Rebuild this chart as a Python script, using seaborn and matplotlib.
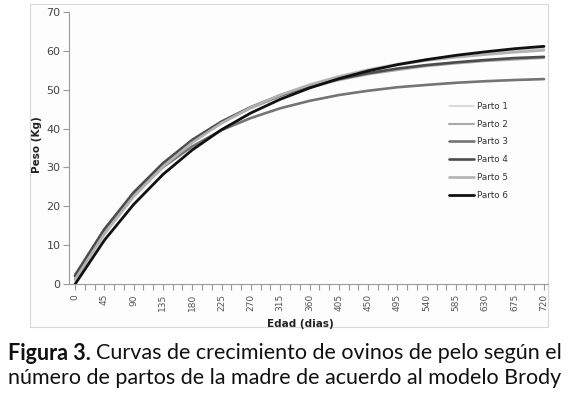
import numpy as np
import pandas as pd
import matplotlib
matplotlib.use("Agg")
import matplotlib.pyplot as plt
import seaborn as sns
from matplotlib.patches import Rectangle

# ---- data ----
edad = [0, 45, 90, 135, 180, 225, 270, 315, 360, 405, 450, 495, 540, 585, 630, 675, 720]
parto1 = [0.6, 12.6, 22.2, 30.0, 36.3, 41.3, 45.4, 48.7, 51.4, 53.5, 55.3, 56.7, 57.8, 58.7, 59.4, 60.0, 60.5]
parto2 = [1.5, 13.5, 23.1, 30.7, 36.7, 41.4, 45.2, 48.2, 50.5, 52.4, 53.9, 55.0, 56.0, 56.7, 57.3, 57.7, 58.1]
parto3 = [2.4, 14.1, 23.1, 30.1, 35.4, 39.6, 42.7, 45.2, 47.1, 48.6, 49.7, 50.6, 51.2, 51.75, 52.15, 52.46, 52.7]
parto4 = [2.1, 14.1, 23.6, 31.1, 37.1, 41.8, 45.5, 48.5, 50.9, 52.7, 54.2, 55.4, 56.3, 57.0, 57.6, 58.1, 58.4]
parto5 = [1.2, 13.0, 22.6, 30.2, 36.4, 41.4, 45.4, 48.6, 51.2, 53.3, 55.0, 56.4, 57.5, 58.3, 59.0, 59.6, 60.1]
parto6 = [0.0, 11.3, 20.5, 28.2, 34.5, 39.7, 44.0, 47.5, 50.4, 52.8, 54.8, 56.4, 57.7, 58.8, 59.7, 60.5, 61.1]
series_names = ["Parto 1", "Parto 2", "Parto 3", "Parto 4", "Parto 5", "Parto 6"]
series_vals = [parto1, parto2, parto3, parto4, parto5, parto6]
x_tick_labels = [str(v) for v in range(0, 721, 45)]
y_ticks = [0, 10, 20, 30, 40, 50, 60, 70]

colors = {"Parto 1": "#d4d4d4", "Parto 2": "#a9a9a9", "Parto 3": "#747474",
          "Parto 4": "#4c4c4c", "Parto 5": "#b2b2b2", "Parto 6": "#111111"}
widths = {"Parto 1": 1.2, "Parto 2": 1.5, "Parto 3": 1.9,
          "Parto 4": 1.9, "Parto 5": 1.9, "Parto 6": 2.0}

rows = []
for name, vals in zip(series_names, series_vals):
    for e, v in zip(edad, vals):
        rows.append({"Edad": e, "Peso": v, "Parto": name})
df = pd.DataFrame(rows)

sns.set_style("white")
plt.rcParams["font.family"] = ["DejaVu Sans"]

W, H = 570, 396
fig = plt.figure(figsize=(W / 100, H / 100), dpi=100)

# chart area frame
fig.patches.append(Rectangle((30 / W, 1 - 327 / H), (548 - 30) / W, (327 - 4) / H,
                             transform=fig.transFigure, facecolor="#fdfdfd",
                             edgecolor="#d8d8d8", lw=0.8, zorder=-5))

ax = fig.add_axes([69 / W, 1 - 284.3 / H, (548 - 69) / W, (284.3 - 11.7) / H])
ax.set_facecolor("none")
ax.set_zorder(2)

for name in series_names:
    sub = df[df["Parto"] == name]
    sns.lineplot(data=sub, x="Edad", y="Peso", ax=ax, color=colors[name],
                 lw=widths[name], label=name, legend=False)

px_per_day = (544 - 75) / 720
ax.set_xlim(-(75 - 69) / px_per_day, 720 + (548 - 544) / px_per_day)
ax.set_ylim(0, 70)

for s in ["top", "right"]:
    ax.spines[s].set_visible(False)
for s in ["left", "bottom"]:
    ax.spines[s].set_color("#9a9a9a")
    ax.spines[s].set_linewidth(0.8)

ax.set_yticks(y_ticks)
ax.set_yticklabels([str(v) for v in y_ticks], fontsize=8, color="#444444")
ax.tick_params(axis="y", direction="out", length=4, width=0.8, color="#9a9a9a", pad=2, left=True)

ax.set_xticks(list(range(0, 721, 45)))
ax.set_xticklabels(x_tick_labels, rotation=90, fontsize=6.5, color="#555555")
ax.set_xticks(list(range(0, 721, 15)), minor=True)
ax.tick_params(axis="x", which="both", direction="out", length=4, width=0.8,
               color="#9a9a9a", pad=3, bottom=True)

ax.set_xlabel("")
ax.set_ylabel("")
fig.text(300 / W, 1 - 324 / H, "Edad (dias)", ha="center", va="center",
         fontsize=7.5, fontweight="bold", color="#222222")
fig.text(37 / W, 1 - 145 / H, "Peso (Kg)", ha="center", va="center", rotation=90,
         fontsize=7.5, fontweight="bold", color="#222222")

handles, labels = ax.get_legend_handles_labels()
leg = ax.legend(handles, labels, loc="upper left", bbox_to_anchor=(449 / W, 1 - 102 / H),
                bbox_transform=fig.transFigure, frameon=False, fontsize=6.3,
                handlelength=2.9, handletextpad=0.35, labelspacing=1.0,
                borderpad=0, borderaxespad=0)
for t in leg.get_texts():
    t.set_color("#333333")

# caption
cap_font = ["Lato", "DejaVu Sans"]
t1 = fig.text(8 / W, 1 - 353 / H, "Figura 3.", ha="left", va="center",
              fontsize=15.5, fontweight="bold", family=cap_font, color="#111111")
fig.canvas.draw()
bb = t1.get_window_extent()
fig.text((bb.x1 + 5) / W, 1 - 353 / H,
         "Curvas de crecimiento de ovinos de pelo según el", ha="left", va="center",
         fontsize=15.5, family=cap_font, color="#111111")
fig.text(8 / W, 1 - 378 / H,
         "número de partos de la madre de acuerdo al modelo Brody", ha="left", va="center",
         fontsize=15.5, family=cap_font, color="#111111")

fig.savefig("out.png", dpi=100, facecolor="white")
